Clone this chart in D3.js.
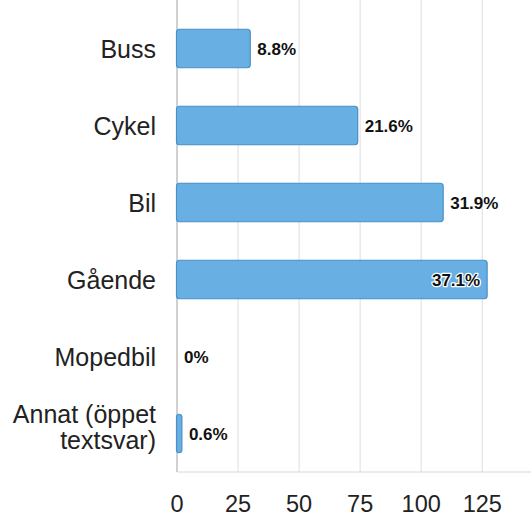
<!DOCTYPE html>
<html><head><meta charset="utf-8">
<script src="https://cdn.jsdelivr.net/npm/d3@7"></script>
<style>body{margin:0;background:#fff;overflow:hidden}</style>
</head><body>
<svg id="c" width="531" height="517"></svg>
<script>
const categories = ["Buss","Cykel","Bil","Gående","Mopedbil","Annat (öppet textsvar)"];
const counts = [30, 74, 109, 127, 0, 2];
const percentLabels = ["8.8%","21.6%","31.9%","37.1%","0%","0.6%"];
const gridTicks = [0,25,50,75,100,125,150];
const tickLabels = [0,25,50,75,100,125];

const svg = d3.select("#c");
const plotLeft = 177, plotTop = 10, plotBottom = 472;
const x = d3.scaleLinear().domain([0,150]).range([plotLeft, plotLeft + 150*2.442]);
const y = d3.scaleBand().domain(categories).range([plotTop, plotBottom]).paddingInner(0.5).paddingOuter(0.25);
const font = "Liberation Sans, Arial, sans-serif";

// gridlines
svg.append("g").selectAll("line").data(gridTicks.slice(1)).join("line")
  .attr("x1", d=>x(d)).attr("x2", d=>x(d)).attr("y1", 0).attr("y2", plotBottom)
  .attr("stroke", "#e3e3e3").attr("stroke-width", 1.2);
// bottom line
svg.append("line").attr("x1", plotLeft).attr("x2", 531).attr("y1", plotBottom).attr("y2", plotBottom)
  .attr("stroke", "#d8d8d8").attr("stroke-width", 1.2);
// left axis line
svg.append("line").attr("x1", plotLeft).attr("x2", plotLeft).attr("y1", 0).attr("y2", plotBottom)
  .attr("stroke", "#d0d0d0").attr("stroke-width", 2);

// bars
svg.append("g").selectAll("rect").data(categories).join("rect")
  .attr("x", plotLeft - 0.5)
  .attr("y", d=>y(d))
  .attr("width", (d,i)=> counts[i] > 0 ? x(counts[i]) - plotLeft + 0.5 : 0)
  .attr("height", y.bandwidth())
  .attr("rx", 3).attr("ry", 3)
  .attr("fill", "#68b0e4").attr("stroke", "#4a8fc6").attr("stroke-width", 1.2);

// value labels
svg.append("g").selectAll("text").data(categories).join("text")
  .attr("x", (d,i)=> i === 3 ? x(counts[i]) - 7 : x(counts[i]) + 7)
  .attr("y", d=>y(d) + y.bandwidth()/2)
  .attr("dy", "0.36em")
  .attr("text-anchor", (d,i)=> i === 3 ? "end" : "start")
  .attr("font-family", font)
  .attr("font-size", 17).attr("font-weight", "bold").attr("fill", "#111")
  .attr("paint-order", "stroke")
  .attr("stroke", (d,i)=> i === 3 ? "#fff" : "none")
  .attr("stroke-width", 2.5).attr("stroke-linejoin", "round")
  .text((d,i)=>percentLabels[i]);

// category labels
const cat = svg.append("g").selectAll("text").data(categories).join("text")
  .attr("text-anchor", "end")
  .attr("font-family", font)
  .attr("font-size", 25).attr("fill", "#222");
cat.each(function(d){
  const t = d3.select(this);
  const cy = y(d) + y.bandwidth()/2;
  if (d === "Annat (öppet textsvar)") {
    ["Annat (öppet","textsvar)"].forEach((ln, k)=>{
      t.append("tspan").attr("x", 156).attr("y", cy - 11 + k*26).text(ln);
    });
  } else {
    t.append("tspan").attr("x", 156).attr("y", cy).attr("dy","0.36em").text(d);
  }
});

// x tick labels
svg.append("g").selectAll("text").data(tickLabels).join("text")
  .attr("x", d=>x(d)).attr("y", 512)
  .attr("text-anchor", "middle")
  .attr("font-family", font)
  .attr("font-size", 23.5).attr("fill", "#222")
  .text(d=>d);
</script>
</body></html>
